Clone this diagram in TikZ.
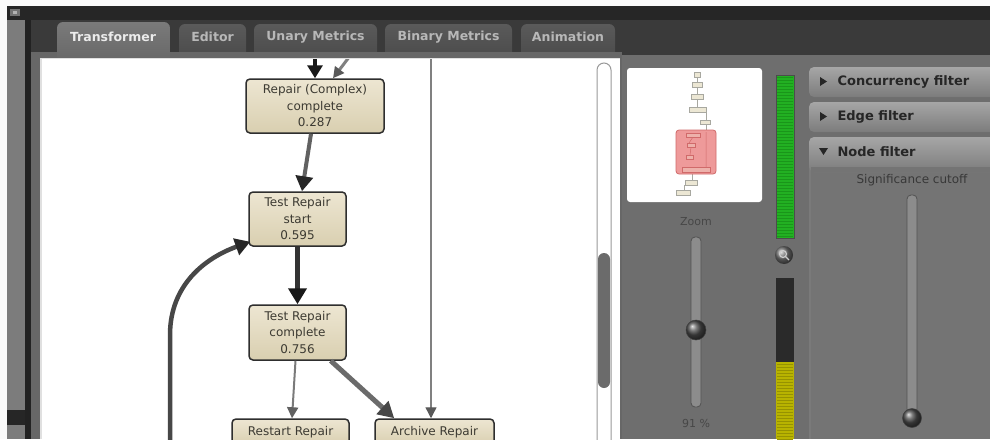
\documentclass[tikz,border=0pt]{standalone}
\usepackage{fontspec}
\setmainfont{DejaVu Sans}
\usetikzlibrary{arrows.meta,calc}

% window chrome
\definecolor{winwhite}{HTML}{FAFAFA}
\definecolor{topband}{HTML}{262626}
\definecolor{tabbar}{HTML}{3A3A3A}
\definecolor{sidegray}{HTML}{7C7C7C}
\definecolor{sidedark}{HTML}{222222}
\definecolor{framegray}{HTML}{676767}
\definecolor{panelgray}{HTML}{6E6E6E}
\definecolor{tabtop}{HTML}{5A5A5A}
\definecolor{tabbot}{HTML}{4A4A4A}
\definecolor{seltop}{HTML}{7A7A7A}
\definecolor{tabtext}{HTML}{B8B8B8}
\definecolor{seltext}{HTML}{EBEBEB}
% graph
\definecolor{nodetop}{HTML}{EDE6D2}
\definecolor{nodebot}{HTML}{D9CFB0}
\definecolor{nodeborder}{HTML}{2E2E2E}
\definecolor{nodetext}{HTML}{3C3A32}
% side panels
\definecolor{meteron}{HTML}{22B022}
\definecolor{meterstripe}{HTML}{1A961A}
\definecolor{meteroff}{HTML}{2A2A2A}
\definecolor{meteryel}{HTML}{B8B300}
\definecolor{yelstripe}{HTML}{969200}
\definecolor{headtop}{HTML}{A6A6A6}
\definecolor{headbot}{HTML}{7C7C7C}
\definecolor{headtext}{HTML}{262626}
\definecolor{minifill}{HTML}{ECE7D4}
\definecolor{miniline}{HTML}{A8A8A0}
\definecolor{hilite}{HTML}{EE9A9A}
\definecolor{hiliteborder}{HTML}{D06A6A}

\tikzset{
  gnode/.style={draw=nodeborder, line width=1.5pt, rounded corners=4pt,
    top color=nodetop, bottom color=nodebot, align=center, text=nodetext,
    inner sep=0pt, font=\fontsize{12}{16.5}\selectfont},
  edgeblack/.style={draw=black!90, line width=4.5pt,
    -{Triangle[length=13pt,width=15pt]}},
  edgedark/.style={draw=black!80, line width=5pt,
    -{Triangle[length=16pt,width=18pt,color=black!90]}},
  edgemid/.style={draw=black!62, line width=4pt,
    -{Triangle[length=15pt,width=17pt,color=black!85]}},
  edgeloop/.style={draw=black!72, line width=4.5pt,
    -{Triangle[length=15pt,width=17pt,color=black!85]}},
  edgethick/.style={draw=black!58, line width=5pt,
    -{Triangle[length=16pt,width=17pt,color=black!72]}},
  edgethin/.style={draw=black!52, line width=2pt,
    -{Triangle[length=11pt,width=11pt,color=black!62]}},
  edgehair/.style={draw=black!50, line width=1.4pt,
    -{Triangle[length=11pt,width=11pt,color=black!65]}},
  tabshape/.style={rounded corners=6pt, top color=tabtop, bottom color=tabbot},
  tablabel/.style={font=\bfseries\fontsize{12.5}{14}\selectfont, text=tabtext},
  header/.style={rounded corners=5pt, top color=headtop, bottom color=headbot},
  headlabel/.style={font=\bfseries\fontsize{13}{15}\selectfont, text=headtext, anchor=west},
  smalllabel/.style={font=\fontsize{11}{13}\selectfont, text=black!72},
  mini/.style={fill=minifill, draw=miniline, line width=0.4pt},
  minired/.style={fill=hilite!70!minifill, draw=hiliteborder, line width=0.4pt},
  knob/.style={ball color=black!70, draw=black!75, line width=0.5pt},
  track/.style={fill=black!45, draw=black!68, line width=0.8pt, rounded corners=4pt},
}

\begin{document}
\begin{tikzpicture}[x=1pt,y=-1pt]
\useasboundingbox (0,0) rectangle (990,439);
\clip (0,0) rectangle (990,439);

% ---- outer window ----
\fill[winwhite] (0,0) rectangle (990,439);
\fill[tabbar] (7,6) rectangle (990,439);
\fill[topband] (7,6) rectangle (990,20);
\fill[sidegray] (7,20) rectangle (25,410);
\fill[black!85] (7,410) rectangle (25,425);
\fill[sidegray] (7,425) rectangle (25,439);
\fill[sidedark] (25,20) rectangle (31,439);
\fill[black!55] (10,9) rectangle (20,16);
\fill[black!30] (13,11) rectangle (17,14);

% ---- tab strip ----
\shade[tabshape] (179,24) rectangle (246,60);
\shade[tabshape] (254,24) rectangle (377,60);
\shade[tabshape] (385,24) rectangle (512,60);
\shade[tabshape] (521,24) rectangle (615,60);
\fill[framegray] (31,52) rectangle (622,439);
\shade[rounded corners=6pt, top color=seltop, bottom color=framegray] (57,22) rectangle (170,62);
\node[tablabel, text=seltext] (tabtransformer) at (113,37) {Transformer};
\node[tablabel] (tabeditor) at (212.5,37) {Editor};
\node[tablabel] (tabunary) at (315.5,37) {Unary Metrics};
\node[tablabel] (tabbinary) at (448.5,37) {Binary Metrics};
\node[tablabel] (tabanim) at (568,37) {Animation};

% ---- right-hand area ----
\fill[panelgray] (622,55) rectangle (990,439);
\fill[black!12] (40,58) rectangle (620,439);
\fill[white] (42,59) rectangle (620,439);

% ---- scroll bar ----
\draw[black!40, line width=1pt, fill=white, rounded corners=7pt] (597,63) rectangle (611,460);
\fill[black!58, rounded corners=6pt] (598,253) rectangle (610,388);

% ---- process graph ----
\begin{scope}
\clip (42,59) rectangle (595,439);
\node[gnode, minimum width=138pt, minimum height=54pt] (rc) at (315,106)
  {Repair (Complex)\\complete\\0.287};
\node[gnode, minimum width=97pt, minimum height=54pt] (ts) at (297.5,219)
  {Test Repair\\start\\0.595};
\node[gnode, minimum width=97pt, minimum height=55pt] (tc) at (297.5,332.5)
  {Test Repair\\complete\\0.756};
\node[gnode, minimum width=117pt, minimum height=26pt] (rr) at (290.5,432)
  {Restart Repair};
\node[gnode, minimum width=119pt, minimum height=26pt] (ar) at (434.5,432)
  {Archive Repair};

\coordinate (in1) at (315,50);
\coordinate (in2) at (356,48);
\coordinate (in3) at (431,50);
\coordinate (loopfoot) at (170,450);

\draw[edgeblack] (in1) -- (rc.north);
\draw[edgehair, line width=3pt, draw=black!50] (in2) -- ($(rc.north)+(18,0)$);
\draw[edgemid] ($(rc.south)+(-4,0)$) -- ($(ts.north)+(4.5,0)$);
\draw[edgedark] (ts.south) -- (tc.north);
\draw[edgeloop] (loopfoot) -- (170,335)
  .. controls (170,285) and (205,258) .. ($(ts.south west)+(2,-5)$);
\draw[edgethin] ($(tc.south)+(-2,0)$) -- ($(rr.north)+(1.5,0)$);
\draw[edgethick] ($(tc.south east)+(-16,0)$) -- ($(ar.north west)+(20,0)$);
\draw[edgehair] (in3) -- ($(ar.north)+(-3.5,0)$);
\end{scope}

% ---- overview thumbnail ----
\fill[white, rounded corners=3pt] (627,68) rectangle (762,202);
\draw[miniline, line width=0.5pt] (697,77) -- (697,107) (706,110) -- (706,172) (692,172) -- (692,185) (684,185) -- (684,192);
\draw[mini] (694,72) rectangle (700,77);
\draw[mini] (692,82) rectangle (702,87);
\draw[mini] (691,94) rectangle (703,99);
\draw[mini] (689,107) rectangle (706,112);
\draw[mini] (700,120) rectangle (710,124);
\draw[mini] (685,180) rectangle (697,185);
\draw[mini] (676,190) rectangle (690,195);
\fill[hilite, draw=hiliteborder, line width=0.8pt, rounded corners=3pt] (676,130) rectangle (716,174);
\draw[hiliteborder, line width=0.5pt] (706,132) -- (706,172) (693,137) -- (689,143) (691,147) -- (690,155);
\draw[minired] (686,133) rectangle (700,137);
\draw[minired] (687,143) rectangle (695,147);
\draw[minired] (686,155) rectangle (693,159);
\draw[minired] (682,167) rectangle (710,172);

% ---- zoom slider ----
\node[smalllabel] (zoomlabel) at (696,222) {Zoom};
\draw[track] (691,237) rectangle (701,407);
\shade[knob] (696,330) circle (10pt);
\node[smalllabel] (zoomvalue) at (696,423) {91 \%};

% ---- level meters ----
\fill[meteron] (776,75) rectangle (794,238);
\foreach \yy in {77,80,...,236} \draw[meterstripe, line width=0.5pt] (777,\yy) -- (793,\yy);
\draw[black!70, line width=0.8pt] (776,75) rectangle (794,238);
\shade[ball color=black!55] (784,255) circle (9pt);
\draw[black!20, line width=1.2pt] (783,254) circle (3.5pt) (785.5,256.5) -- (789,260);
\fill[meteroff] (776,278) rectangle (794,362);
\fill[meteryel] (776,362) rectangle (794,439);
\foreach \yy in {364,367,...,439} \draw[yelstripe, line width=0.5pt] (777,\yy) -- (793,\yy);

% ---- filter panels ----
\fill[black!52] (809,166) rectangle (990,439);
\fill[panelgray!96!white] (811,166) rectangle (990,439);
\shade[header] (809,67) rectangle (1000,97);
\shade[header] (809,102) rectangle (1000,132);
\shade[header] (809,137) rectangle (1000,172);
\fill[panelgray!96!white] (811,167) rectangle (990,172);
\fill[headtext] (820,77) -- (827,81.5) -- (820,86) -- cycle;
\fill[headtext] (820,112) -- (827,116.5) -- (820,121) -- cycle;
\fill[headtext] (819,148) -- (828,148) -- (823.5,155) -- cycle;
\node[headlabel] (hconc) at (834,81.5) {Concurrency filter};
\node[headlabel] (hedge) at (834,116.5) {Edge filter};
\node[headlabel] (hnode) at (834,151.5) {Node filter};
\node[font=\fontsize{12}{14}\selectfont, text=black!78] (sigcut) at (912,180) {Significance cutoff};
\draw[track] (907,195) rectangle (917,415);
\shade[knob] (912,418) circle (9.5pt);
\end{tikzpicture}
\end{document}
